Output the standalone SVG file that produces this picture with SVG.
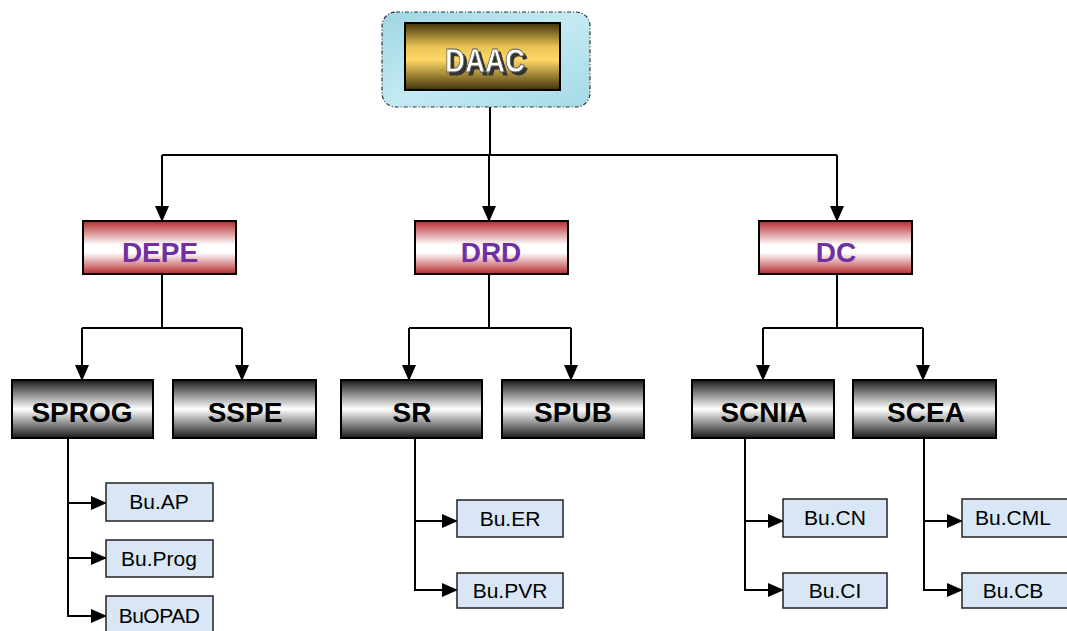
<svg xmlns="http://www.w3.org/2000/svg" width="1067" height="631" viewBox="0 0 1067 631">
<style>
.l{stroke:#000;stroke-width:2;fill:none}
.a{stroke:#000;stroke-width:2;fill:none;marker-end:url(#ah)}
.red{fill:url(#gr);stroke:#000;stroke-width:2}
.gry{fill:url(#gg);stroke:#000;stroke-width:2}
.bu{fill:#d8e6f5;stroke:#222;stroke-width:1.5}
.t2{font-family:"Liberation Sans",Arial,sans-serif;font-weight:bold;font-size:28px;fill:#7030a0;text-anchor:middle}
.t3{font-family:"Liberation Sans",Arial,sans-serif;font-weight:bold;font-size:28px;fill:#000;text-anchor:middle}
.t4{font-family:"Liberation Sans",Arial,sans-serif;font-size:21px;fill:#000;text-anchor:middle}
</style>
<defs>
<marker id="ah" markerWidth="16" markerHeight="14" refX="15" refY="7" orient="auto" markerUnits="userSpaceOnUse">
<path d="M0,0 L16,7 L0,14 Z" fill="#000"/>
</marker>
<linearGradient id="gr" x1="0" y1="0" x2="0" y2="1">
<stop offset="0" stop-color="#b52a2e"/>
<stop offset="0.45" stop-color="#ffffff"/>
<stop offset="0.6" stop-color="#ffffff"/>
<stop offset="1" stop-color="#b52a2e"/>
</linearGradient>
<linearGradient id="gg" x1="0" y1="0" x2="0" y2="1">
<stop offset="0" stop-color="#1a1a1a"/>
<stop offset="0.5" stop-color="#ffffff"/>
<stop offset="1" stop-color="#1a1a1a"/>
</linearGradient>
<linearGradient id="gy" x1="0" y1="0" x2="0" y2="1">
<stop offset="0" stop-color="#3f3208"/>
<stop offset="0.35" stop-color="#e8c355"/>
<stop offset="0.55" stop-color="#ffd966"/>
<stop offset="1" stop-color="#3f3208"/>
</linearGradient>
<linearGradient id="gc" x1="0" y1="0" x2="1" y2="1">
<stop offset="0" stop-color="#9ed6e4"/>
<stop offset="0.5" stop-color="#c4eaf2"/>
<stop offset="1" stop-color="#a4dae6"/>
</linearGradient>
<filter id="sh" x="-10%" y="-10%" width="130%" height="140%">
<feOffset in="SourceAlpha" dx="3" dy="3" result="o"/>
<feFlood flood-color="#333"/>
<feComposite in2="o" operator="in" result="s"/>
<feMerge><feMergeNode in="s"/><feMergeNode in="SourceGraphic"/></feMerge>
</filter>
</defs>

<g id="connectors">
<path class="l" d="M490,107 V155"/>
<path class="l" d="M162,155 H837"/>
<path class="a" d="M162,155 V221"/>
<path class="a" d="M489,155 V221"/>
<path class="a" d="M837,155 V221"/>
<path class="l" d="M162,275 V328 M82,328 H242"/>
<path class="a" d="M82,328 V380"/>
<path class="a" d="M242,328 V380"/>
<path class="l" d="M489,275 V328 M409,328 H571"/>
<path class="a" d="M409,328 V380"/>
<path class="a" d="M571,328 V380"/>
<path class="l" d="M837,275 V328 M763,328 H923"/>
<path class="a" d="M763,328 V380"/>
<path class="a" d="M923,328 V380"/>
<path class="l" d="M68,439 V616"/>
<path class="a" d="M67,503 H106"/>
<path class="a" d="M67,558 H106"/>
<path class="a" d="M67,616 H106"/>
<path class="l" d="M415,439 V590"/>
<path class="a" d="M414,521 H457"/>
<path class="a" d="M414,590 H457"/>
<path class="l" d="M745,439 V590"/>
<path class="a" d="M744,521 H783"/>
<path class="a" d="M744,590 H783"/>
<path class="l" d="M924,439 V590"/>
<path class="a" d="M923,521 H962"/>
<path class="a" d="M923,590 H962"/>
</g>

<g id="DAAC">
<rect x="382" y="12" width="208" height="95" rx="14" fill="url(#gc)" stroke="#333" stroke-width="1.2" stroke-dasharray="4,2,1,2"/>
<rect x="405" y="23" width="155" height="67" fill="url(#gy)" stroke="#000" stroke-width="2"/>
<text x="445" y="72" textLength="80" lengthAdjust="spacingAndGlyphs" font-family="Liberation Sans,Arial,sans-serif" font-weight="bold" font-size="34" fill="#fff" stroke="#555" stroke-width="0.8" filter="url(#sh)">DAAC</text>
</g>

<g id="DEPE"><rect class="red" x="83" y="221" width="153" height="53"/><text class="t2" x="160" y="262">DEPE</text></g>
<g id="DRD"><rect class="red" x="415" y="221" width="153" height="53"/><text class="t2" x="491" y="262">DRD</text></g>
<g id="DC"><rect class="red" x="759" y="221" width="153" height="53"/><text class="t2" x="836" y="262">DC</text></g>

<g id="SPROG"><rect class="gry" x="12" y="380" width="141" height="58"/><text class="t3" x="82" y="422">SPROG</text></g>
<g id="SSPE"><rect class="gry" x="173" y="380" width="143" height="58"/><text class="t3" x="245" y="422">SSPE</text></g>
<g id="SR"><rect class="gry" x="341" y="380" width="141" height="58"/><text class="t3" x="412" y="422">SR</text></g>
<g id="SPUB"><rect class="gry" x="502" y="380" width="142" height="58"/><text class="t3" x="573" y="422">SPUB</text></g>
<g id="SCNIA"><rect class="gry" x="692" y="380" width="142" height="58"/><text class="t3" x="764" y="422">SCNIA</text></g>
<g id="SCEA"><rect class="gry" x="853" y="380" width="143" height="58"/><text class="t3" x="926" y="422">SCEA</text></g>

<g id="BuAP"><rect class="bu" x="106" y="483" width="107" height="38"/><text class="t4" x="159" y="509">Bu.AP</text></g>
<g id="BuProg"><rect class="bu" x="106" y="540" width="107" height="37"/><text class="t4" x="159" y="566">Bu.Prog</text></g>
<g id="BuOPAD"><rect class="bu" x="106" y="596" width="107" height="40"/><text class="t4" x="159" y="623" letter-spacing="-0.5">BuOPAD</text></g>
<g id="BuER"><rect class="bu" x="457" y="500" width="106" height="37"/><text class="t4" x="510" y="526">Bu.ER</text></g>
<g id="BuPVR"><rect class="bu" x="457" y="573" width="106" height="35"/><text class="t4" x="510" y="598">Bu.PVR</text></g>
<g id="BuCN"><rect class="bu" x="783" y="499" width="104" height="38"/><text class="t4" x="835" y="525">Bu.CN</text></g>
<g id="BuCI"><rect class="bu" x="783" y="573" width="104" height="35"/><text class="t4" x="835" y="598">Bu.CI</text></g>
<g id="BuCML"><rect class="bu" x="962" y="499" width="106" height="38"/><text class="t4" x="1013" y="525">Bu.CML</text></g>
<g id="BuCB"><rect class="bu" x="962" y="573" width="106" height="35"/><text class="t4" x="1013" y="598">Bu.CB</text></g>
</svg>
